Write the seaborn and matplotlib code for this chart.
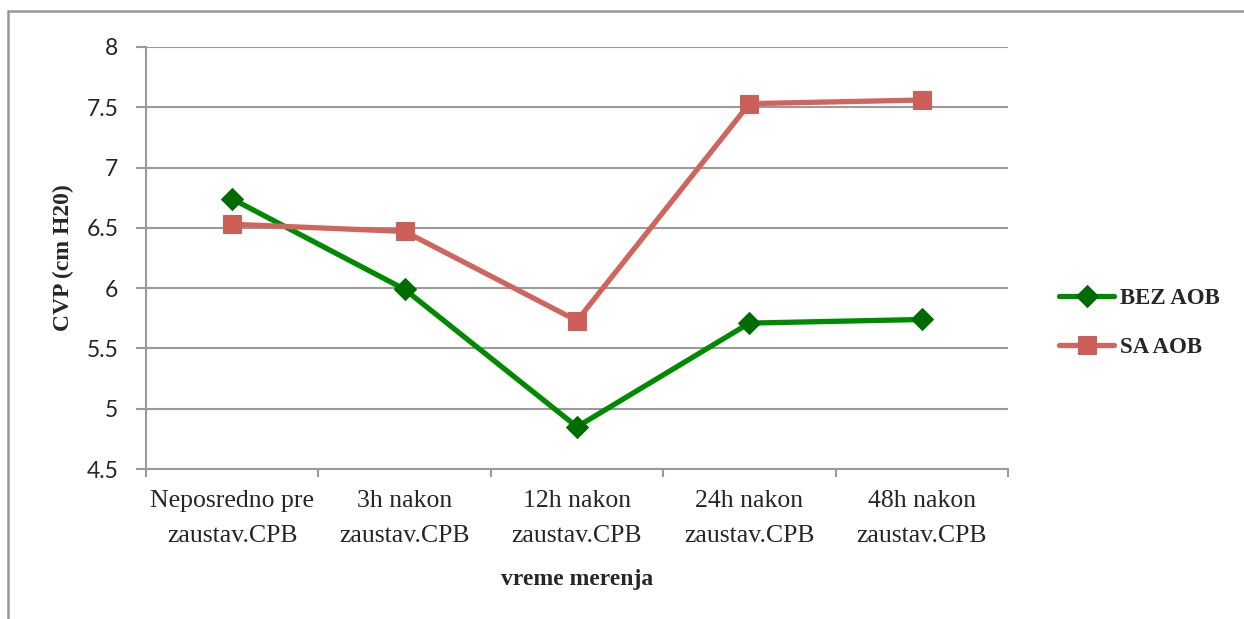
import pandas as pd
import seaborn as sns
from matplotlib import pyplot as plt
from matplotlib.patches import Rectangle
from matplotlib.ticker import FixedLocator, NullFormatter

# data
categories = ['Neposredno pre\nzaustav.CPB', '3h nakon\nzaustav.CPB', '12h nakon\nzaustav.CPB',
              '24h nakon\nzaustav.CPB', '48h nakon\nzaustav.CPB']
bez_aob = [6.74, 5.99, 4.85, 5.71, 5.74]
sa_aob = [6.53, 6.47, 5.73, 7.53, 7.56]
series_names = ['BEZ AOB', 'SA AOB']

df = pd.DataFrame({
    'vreme': categories * 2,
    'cvp': bez_aob + sa_aob,
    'grupa': [series_names[0]] * 5 + [series_names[1]] * 5,
})

sns.set_style('white')
fig = plt.figure(figsize=(12.44, 6.19), dpi=100)
ax = fig.add_axes([0.1174, 0.2423, 0.8103 - 0.1174, 0.9241 - 0.2423])

grid_col = '#9a9a9a'
colors = {'BEZ AOB': '#008a00', 'SA AOB': '#d0655e'}
mcolors = {'BEZ AOB': '#006b00', 'SA AOB': '#cc5f58'}
markers = {'BEZ AOB': 'D', 'SA AOB': 's'}
msizes = {'BEZ AOB': 11, 'SA AOB': 13.5}

for name in series_names:
    sub = df[df['grupa'] == name]
    sns.lineplot(data=sub, x='vreme', y='cvp', ax=ax, color=colors[name], lw=3.8,
                 marker=markers[name], markersize=msizes[name], markerfacecolor=mcolors[name],
                 markeredgecolor=mcolors[name], label=name, sort=False, zorder=3)

ax.set_xlim(-0.5, 4.5)
ax.set_ylim(4.5, 8)
ax.set_yticks([4.5, 5, 5.5, 6, 6.5, 7, 7.5, 8])
ax.set_yticklabels(['4.5', '5', '5.5', '6', '6.5', '7', '7.5', '8'])
ax.yaxis.grid(True, color=grid_col, lw=1.5, zorder=0)
ax.xaxis.grid(False)
ax.set_axisbelow(True)

ax.set_xticks(range(5))
ax.set_xticklabels(categories, family='Liberation Serif', fontsize=18.5, linespacing=1.75)
ax.xaxis.set_minor_locator(FixedLocator([-0.5, 0.5, 1.5, 2.5, 3.5, 4.5]))
ax.xaxis.set_minor_formatter(NullFormatter())
ax.tick_params(axis='x', which='major', bottom=True, length=0, pad=15)
ax.tick_params(axis='x', which='minor', bottom=True, length=6, width=1.5, color=grid_col)
ax.tick_params(axis='y', which='major', left=True, length=7, width=1.5, color=grid_col,
               labelsize=16.5, pad=13)
for lbl in ax.get_yticklabels():
    lbl.set_family('Lato')

for s in ['top', 'right']:
    ax.spines[s].set_visible(False)
for s in ['left', 'bottom']:
    ax.spines[s].set_color(grid_col)
    ax.spines[s].set_linewidth(1.5)

ax.set_xlabel('vreme merenja', family='Liberation Serif', fontweight='bold', fontsize=17, labelpad=16)
ax.set_ylabel('CVP (cm H20)', family='Liberation Serif', fontweight='bold', fontsize=17, labelpad=9)

leg = ax.legend(loc='center left', bbox_to_anchor=(0.835, 0.478), bbox_transform=fig.transFigure,
                frameon=False, handlelength=2.4, handletextpad=0.25, labelspacing=1.2,
                prop={'family': 'Liberation Serif', 'weight': 'bold', 'size': 16.5})

# outer border of the chart object
fig.add_artist(Rectangle((8 / 1244, -0.1), 1.2, 1 - 11 / 619 + 0.1, transform=fig.transFigure,
                         fill=False, edgecolor='#999999', lw=1.8))

plt.savefig('out.png', dpi=100)
